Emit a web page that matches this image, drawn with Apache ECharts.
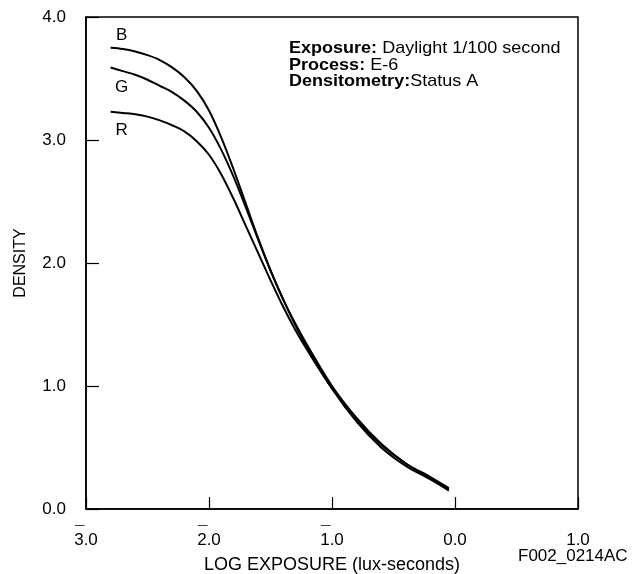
<!DOCTYPE html>
<html>
<head>
<meta charset="utf-8">
<script src="https://cdn.jsdelivr.net/npm/echarts@6/dist/echarts.min.js"></script>
<style>html,body{margin:0;padding:0;background:#fff;}#c{width:634px;height:574px;}</style>
</head>
<body>
<div id="c"></div>
<script>
// Log exposure (lux-seconds) values, shared by all curves
const logExposure = [-2.8, -2.7, -2.6, -2.5, -2.4, -2.3, -2.2, -2.1, -2.0, -1.9, -1.8, -1.7, -1.6, -1.5, -1.4, -1.3, -1.2, -1.0, -0.8, -0.6, -0.4, -0.2, -0.05];
// Density values for each layer
const densityB = [3.75, 3.74, 3.72, 3.69, 3.65, 3.59, 3.51, 3.40, 3.24, 3.02, 2.76, 2.48, 2.20, 1.94, 1.71, 1.51, 1.33, 1.00, 0.74, 0.53, 0.37, 0.25, 0.16];
const densityG = [3.59, 3.56, 3.53, 3.49, 3.44, 3.39, 3.32, 3.23, 3.10, 2.92, 2.70, 2.45, 2.19, 1.94, 1.71, 1.50, 1.31, 0.98, 0.71, 0.50, 0.35, 0.24, 0.15];
const densityR = [3.23, 3.22, 3.21, 3.19, 3.16, 3.12, 3.07, 2.99, 2.88, 2.72, 2.52, 2.30, 2.08, 1.86, 1.65, 1.46, 1.29, 0.98, 0.72, 0.52, 0.37, 0.26, 0.17];
const seriesNames = ['B', 'G', 'R'];
// Curve-label anchor points [log exposure, density]
const labelAnchors = { B: [-2.71, 3.85], G: [-2.71, 3.43], R: [-2.71, 3.08] };
// Axis ticks
const xTicks = [-3, -2, -1, 0, 1];
const yTicks = [0, 1, 2, 3, 4];

const font = 'Liberation Sans, Arial, Helvetica, sans-serif';
const chart = echarts.init(document.getElementById('c'), null, { renderer: 'canvas' });

function mk(name, dens) {
  return {
    name: name,
    type: 'line',
    smooth: 0.35,
    symbol: 'none',
    lineStyle: { color: '#000', width: 2 },
    data: logExposure.map((x, i) => [x, dens[i]]),
    markPoint: {
      symbol: 'circle', symbolSize: 0,
      label: { show: true, position: 'inside', formatter: name, color: '#000', fontSize: 17, fontFamily: font },
      data: [{ coord: labelAnchors[name] }]
    },
    z: 3
  };
}

chart.setOption({
  animation: false,
  backgroundColor: '#fff',
  grid: { left: 86, right: 56, top: 17, bottom: 65, containLabel: false, outerBoundsMode: 'none', show: true, borderColor: '#000', borderWidth: 1.5, backgroundColor: 'transparent' },
  xAxis: {
    type: 'value', min: xTicks[0], max: xTicks[xTicks.length - 1], interval: 1,
    name: 'LOG EXPOSURE (lux-seconds)', nameLocation: 'middle', nameGap: 47,
    nameTextStyle: { color: '#000', fontSize: 18, fontFamily: font },
    axisLine: { show: true, onZero: false, lineStyle: { color: '#000', width: 1.5 } },
    axisTick: { show: true, inside: true, length: 12, lineStyle: { color: '#000', width: 1.2 } },
    splitLine: { show: false },
    axisLabel: {
      margin: 24, color: '#000', fontFamily: font,
      formatter: function (v) {
        const s = Math.abs(v).toFixed(1);
        return (v < 0 ? '{bar|\u00AF}' : '{bar| }') + '\n{num|' + s + '}';
      },
      rich: {
        bar: { fontSize: 17, lineHeight: 1, width: 22, align: 'left', color: '#000', fontFamily: font },
        num: { fontSize: 17, lineHeight: 13, width: 22, align: 'center', color: '#000', fontFamily: font }
      }
    }
  },
  yAxis: {
    type: 'value', min: yTicks[0], max: yTicks[yTicks.length - 1], interval: 1,
    name: 'DENSITY', nameLocation: 'middle', nameGap: 57, nameRotate: 90,
    nameTextStyle: { color: '#000', fontSize: 16, fontFamily: font },
    axisLine: { show: true, onZero: false, lineStyle: { color: '#000', width: 1.5 } },
    axisTick: { show: true, inside: true, length: 13, lineStyle: { color: '#000', width: 1.2 } },
    splitLine: { show: false },
    axisLabel: { margin: 20, color: '#000', fontSize: 17, fontFamily: font, formatter: v => v.toFixed(1) }
  },
  graphic: [
    {
      type: 'text', left: 289, top: 40, scaleX: 1.06,
      style: {
        text: '{b|Exposure:} Daylight 1/100 second\n{b|Process:} E-6\n{b|Densitometry:}Status A',
        fill: '#000', font: '17px ' + font,
        rich: {
          b: { fontWeight: 'bold', fontSize: 17, fontFamily: font, lineHeight: 16.5 }
        },
        lineHeight: 16.5
      }
    },
    {
      type: 'text', left: 518, top: 548,
      style: { text: 'F002_0214AC', fill: '#000', font: '17px ' + font }
    }
  ],
  series: [mk('B', densityB), mk('G', densityG), mk('R', densityR)]
});
</script>
</body>
</html>
